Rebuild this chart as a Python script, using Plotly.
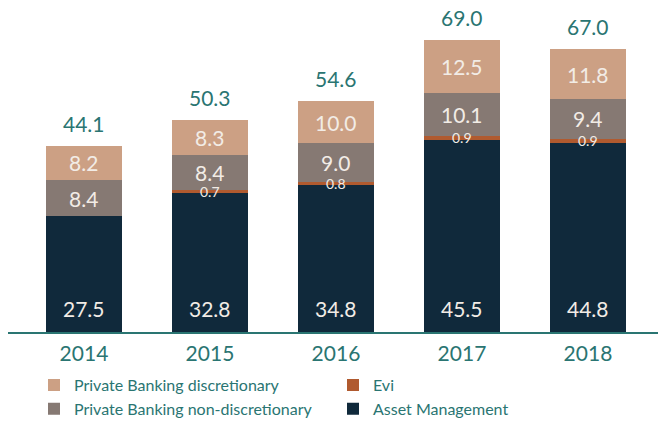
import plotly.graph_objects as go

years = ["2014", "2015", "2016", "2017", "2018"]
asset_mgmt = [27.5, 32.8, 34.8, 45.5, 44.8]
evi = [0.0, 0.7, 0.8, 0.9, 0.9]
pb_nondisc = [8.4, 8.4, 9.0, 10.1, 9.4]
pb_disc = [8.2, 8.3, 10.0, 12.5, 11.8]
totals = [44.1, 50.3, 54.6, 69.0, 67.0]

TEAL = "#2a7572"
C_AM = "#10293b"
C_EVI = "#b05a2f"
C_PBN = "#867973"
C_PBD = "#cca084"
LBL = "#f2ece6"
FONT = "Lato"

series = [
    ("Asset Management", asset_mgmt, C_AM, 4),
    ("Evi", evi, C_EVI, 2),
    ("Private Banking non-discretionary", pb_nondisc, C_PBN, 3),
    ("Private Banking discretionary", pb_disc, C_PBD, 1),
]

fig = go.Figure()
for name, vals, col, rank in series:
    fig.add_trace(go.Bar(
        x=years, y=vals, name=name, marker=dict(color=col, line=dict(width=0)),
        width=0.6, legendrank=rank, hoverinfo="skip",
    ))

for i, yr in enumerate(years):
    fig.add_annotation(x=i, y=0, xref="x", yref="y", text=f"{asset_mgmt[i]:.1f}", showarrow=False,
                       yanchor="middle", yshift=24,
                       font=dict(family=FONT, size=21, color=LBL))
    base = asset_mgmt[i]
    for vals, small in ((evi, True), (pb_nondisc, False), (pb_disc, False)):
        v = vals[i]
        if v > 0:
            fig.add_annotation(x=i, y=base + v / 2, xref="x", yref="y", text=f"{v:.1f}", showarrow=False,
                               yanchor="middle",
                               font=dict(family=FONT, size=14 if small else 21, color=LBL))
        base += v
    fig.add_annotation(x=i, y=base, xref="x", yref="y", text=f"{totals[i]:.1f}", showarrow=False,
                       yanchor="bottom", yshift=8,
                       font=dict(family=FONT, size=21, color=TEAL))

fig.update_layout(
    barmode="stack",
    width=658, height=421,
    margin=dict(l=8, r=0, t=15, b=89, autoexpand=False),
    paper_bgcolor="white", plot_bgcolor="white",
    font=dict(family=FONT, color=TEAL),
    showlegend=True,
    legend=dict(
        orientation="h",
        x=0.04, y=-0.114, xanchor="left", yanchor="top",
        entrywidth=254, traceorder="normal",
        font=dict(family=FONT, size=16, color=TEAL),
    ),
    xaxis=dict(
        type="category", range=[-0.603, 4.556],
        showline=True, linecolor=TEAL, linewidth=2,
        showgrid=False, zeroline=False,
        ticks="outside", ticklen=2, tickcolor="rgba(0,0,0,0)",
        tickfont=dict(family=FONT, size=21, color=TEAL),
        fixedrange=True,
    ),
    yaxis=dict(range=[0, 75], showticklabels=False, showgrid=False, zeroline=False,
               showline=False, ticks="", fixedrange=True),
)

fig.write_html("out.html", config={"displayModeBar": False},
               post_script="document.body.style.margin='0';")
